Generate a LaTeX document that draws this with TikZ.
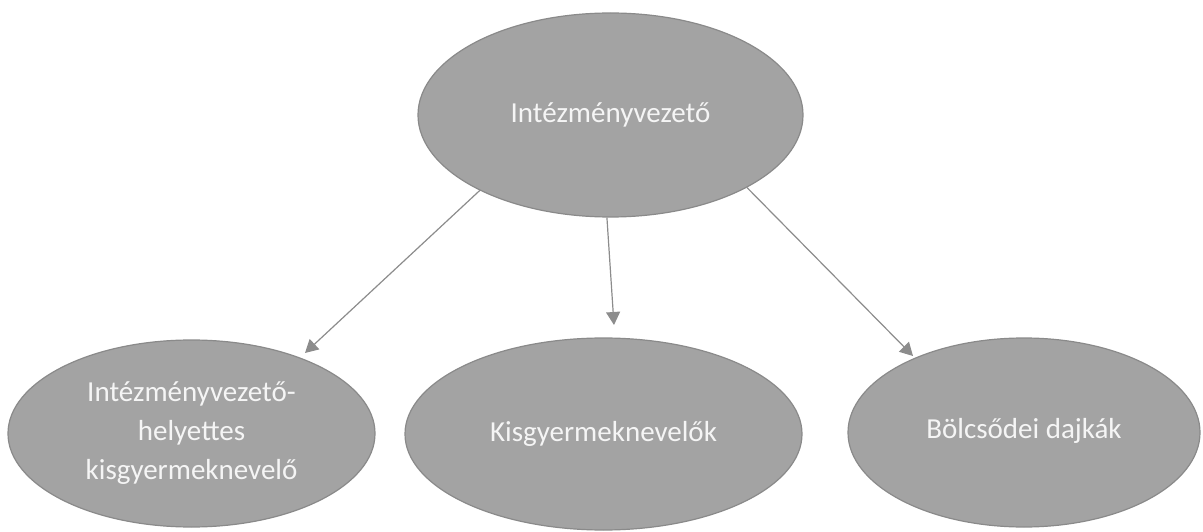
\documentclass[tikz,border=0pt]{standalone}
\usepackage{fontspec}
\setmainfont{Carlito}
\usetikzlibrary{shapes.geometric,arrows.meta}
\definecolor{ellfill}{RGB}{163,163,163}
\definecolor{elldraw}{RGB}{138,138,138}
\definecolor{arrcol}{RGB}{140,140,140}
\definecolor{txtcol}{RGB}{245,245,245}
\tikzset{
  x=1pt,y=1pt,
  ell/.style={ellipse, fill=ellfill, draw=elldraw, line width=1.2pt, inner sep=0pt,
    text=txtcol, align=center, font=\fontsize{29}{39}\selectfont},
  arr/.style={draw=arrcol, line width=1.2pt, -{Triangle[width=14pt,length=13pt]}}
}
\begin{document}
\begin{tikzpicture}
\useasboundingbox (0,0) rectangle (1203,531);
\node[ell, minimum width=385pt, minimum height=204pt] (top) at (610.5,416) {\raisebox{-5pt}{Intézményvezető}};
\node[ell, minimum width=367pt, minimum height=187pt] (left) at (191.5,97.5) {Intézményvezető-\\helyettes\\kisgyermeknevelő};
\node[ell, minimum width=397pt, minimum height=192pt] (mid) at (603.5,97) {Kisgyermeknevelők};
\node[ell, minimum width=352pt, minimum height=189pt] (right) at (1024,98.5) {\raisebox{9pt}{Bölcsődei dajkák}};
\coordinate (tipL) at (305,178);
\coordinate (tipM) at (614,206);
\coordinate (tipR) at (913,175);
\draw[arr] (top.210) -- (tipL);
\draw[arr] (top.268) -- (tipM);
\draw[arr] (top.332) -- (tipR);
\end{tikzpicture}
\end{document}
